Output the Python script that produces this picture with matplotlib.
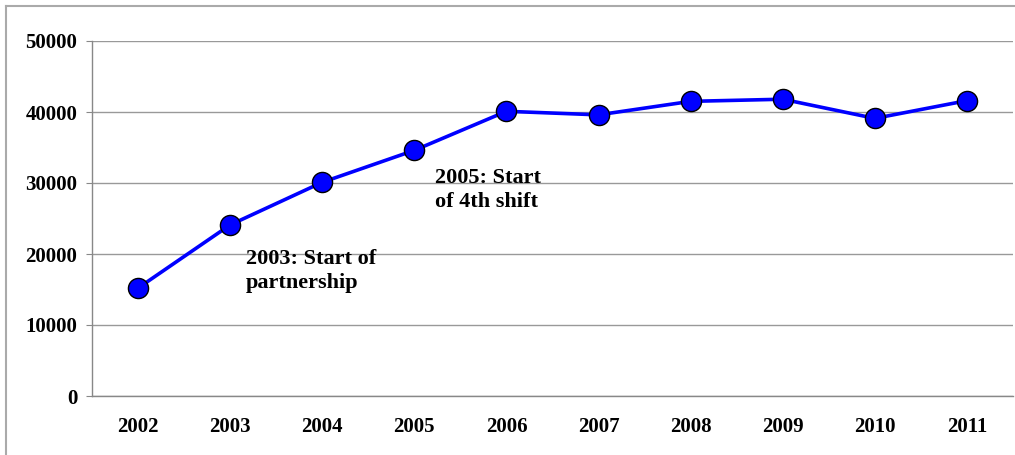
import matplotlib.pyplot as plt
from matplotlib.lines import Line2D

years = ['2002', '2003', '2004', '2005', '2006', '2007', '2008', '2009', '2010', '2011']
values = [15200, 24100, 30100, 34600, 40100, 39600, 41500, 41800, 39100, 41600]
y_ticks = [0, 10000, 20000, 30000, 40000, 50000]

plt.rcParams['font.family'] = ['Liberation Serif', 'DejaVu Serif']
plt.rcParams['font.weight'] = 'bold'

fig = plt.figure(figsize=(10.15, 4.55), dpi=100)
ax = fig.add_axes([92 / 1015, 1 - 396 / 455, (1013 - 92) / 1015, (396 - 41) / 455])

x = list(range(len(years)))
ax.plot(x, values, color='#0000ff', lw=2.6, marker='o', markersize=14.5,
        markerfacecolor='#0000ff', markeredgecolor='black', markeredgewidth=1.0,
        zorder=3, clip_on=False)

ax.set_xlim(-0.5, len(years) - 0.5)
ax.set_ylim(0, 50000)
ax.set_yticks(y_ticks)
ax.set_yticklabels([str(v) for v in y_ticks], fontsize=15, fontweight='bold')
ax.set_xticks(x)
ax.set_xticklabels(years, fontsize=15, fontweight='bold')
ax.tick_params(axis='y', length=4.5, color='#888888', pad=6)
ax.tick_params(axis='x', length=0, pad=15)
ax.yaxis.grid(True, color='#999999', lw=1.0)
ax.set_axisbelow(True)

for s in ['top', 'right']:
    ax.spines[s].set_visible(False)
for s in ['left', 'bottom']:
    ax.spines[s].set_color('#888888')
    ax.spines[s].set_linewidth(1.0)

ax.text(1.17, 17600, '2003: Start of\npartnership', fontsize=16, fontweight='bold',
        va='center', ha='left', linespacing=1.25)
ax.text(3.22, 29000, '2005: Start\nof 4th shift', fontsize=16, fontweight='bold',
        va='center', ha='left', linespacing=1.25)

# outer frame like the pasted picture
fig.add_artist(Line2D([6 / 1015, 6 / 1015], [0, 1 - 6 / 455], color='#aaaaaa', lw=1.5))
fig.add_artist(Line2D([6 / 1015, 1], [1 - 6 / 455, 1 - 6 / 455], color='#aaaaaa', lw=1.5))

fig.savefig('out.png', dpi=100)
